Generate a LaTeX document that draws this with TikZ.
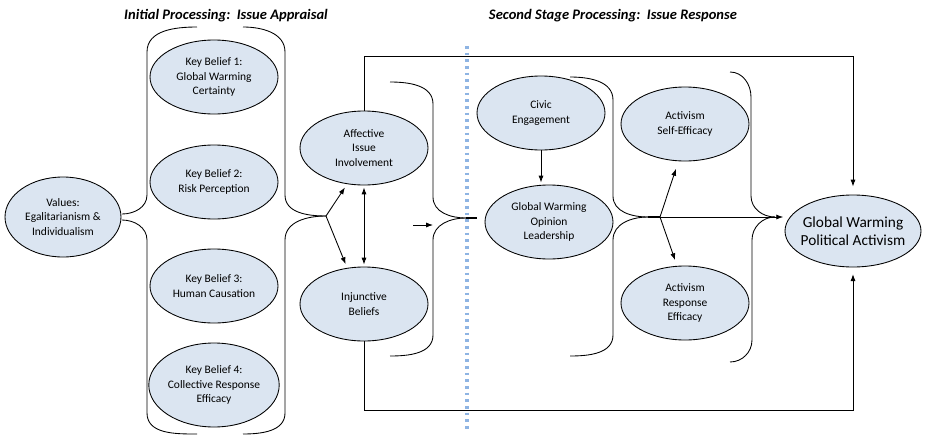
\documentclass[tikz,border=0pt]{standalone}
\usepackage{fontspec}
\setmainfont{Carlito}
\usetikzlibrary{shapes.geometric,arrows.meta,calc}
\definecolor{nodefill}{HTML}{DBE5F1}
\definecolor{dotblue}{HTML}{8EB4E3}
\tikzset{
  ell/.style={ellipse, draw=black, line width=0.65pt, fill=nodefill, inner sep=0pt, align=center,
    font=\fontsize{8.6}{10.9}\selectfont, text=black},
  kb/.style={minimum width=96pt, minimum height=55.5pt},
  ttl/.style={font=\fontsize{10.9}{13}\selectfont\bfseries\itshape, inner sep=0pt},
  ln/.style={line width=0.65pt},
  arr/.style={line width=0.65pt, -{Latex[length=5.2pt,width=3.8pt]}},
  darr/.style={line width=0.65pt, {Latex[length=5.2pt,width=3.8pt]}-{Latex[length=5.2pt,width=3.8pt]}},
  dotline/.style={dotblue, line width=2.5pt, dash pattern=on 2pt off 3pt},
}
\begin{document}
\begin{tikzpicture}[x=0.75pt,y=-0.75pt]
\useasboundingbox (0,0) rectangle (929,436);
% titles
\node[ttl] (t1) at (226,16) {Initial Processing:\ \ Issue Appraisal};
\node[ttl] (t2) at (613,16) {Second Stage Processing:\ \ Issue Response};
% dotted separator
\coordinate (dtop) at (467,46);
\coordinate (dbot) at (467,430);
\draw[dotline] (dtop) -- (dbot);
% nodes
\node[ell, minimum width=87pt, minimum height=60pt] (val) at (63,217) {Values:\\Egalitarianism \&\\Individualism};
\node[ell,kb] (kb1) at (214,77) {Key Belief 1:\\Global Warming\\Certainty};
\node[ell,kb] (kb2) at (214,182) {Key Belief 2:\\Risk Perception};
\node[ell,kb] (kb3) at (214,286) {Key Belief 3:\\Human Causation};
\node[ell,kb, minimum height=63pt] (kb4) at (214,385) {Key Belief 4:\\Collective Response\\Efficacy};
\node[ell,kb] (aff) at (364,148) {Affective\\Issue\\Involvement};
\node[ell,kb] (inj) at (364,304) {Injunctive\\Beliefs};
\node[ell,kb] (civ) at (541,113) {Civic\\Engagement};
\node[ell,kb] (gwol) at (549,222) {Global Warming\\Opinion\\Leadership};
\node[ell,kb] (ase) at (685,124) {Activism\\Self-Efficacy};
\node[ell,kb] (are) at (685,303) {Activism\\Response\\Efficacy};
\node[ell, minimum width=102pt, minimum height=54pt, inner xsep=-4pt, font=\fontsize{11.5}{13.5}\selectfont] (gwpa) at (853,231) {Global Warming\\Political Activism};
% braces
\draw[ln] (197,27) to[out=180,in=90] (147,52) -- (147,195) to[out=-90,in=0] (122,214);
\draw[ln] (122,220) to[out=0,in=90] (147,240) -- (147,413) to[out=-90,in=180] (197,434);
\coordinate (f1) at (326,216);
\draw[ln] (243,27) to[out=0,in=90] (285,52) -- (285,195) to[out=-90,in=180] (f1);
\draw[ln] (f1) to[out=180,in=90] (285,240) -- (285,413) to[out=-90,in=0] (243,434);
\coordinate (m1) at (466,218);
\draw[ln] (390,82) to[out=0,in=90] (433,104) -- (433,197) to[out=-90,in=180] (m1);
\draw[ln] (m1) to[out=180,in=90] (433,240) -- (433,335) to[out=-90,in=0] (390,356);
\coordinate (m1s) at (477,218);
\draw[line width=1.3pt] (m1) -- (m1s);
\coordinate (sa1) at (413,225);
\coordinate (sa2) at (433,225);
\draw[arr] (sa1) -- (sa2);
\coordinate (m2) at (648,217);
\draw[ln] (570,77) to[out=0,in=90] (613,100) -- (613,196) to[out=-90,in=180] (m2);
\draw[ln] (m2) to[out=180,in=90] (613,240) -- (613,335) to[out=-90,in=0] (570,356);
\coordinate (f2) at (660,217);
\draw[line width=1.3pt] (m2) -- (f2);
\coordinate (rr) at (775,217);
\draw[ln] (730,72) to[out=0,in=90] (751,97) -- (751,196) to[out=-90,in=180] (rr);
\draw[ln] (rr) to[out=180,in=90] (752,240) -- (752,340) to[out=-90,in=0] (730,362);
% connectors
\draw[arr, shorten >=3pt] (f1) -- (aff.-115);
\draw[arr, shorten >=3pt] (f1) -- (inj.115);
\draw[darr, shorten >=1.5pt, shorten <=1.5pt] (aff.south) -- (inj.north);
\coordinate (ty) at (0,56);
\coordinate (by) at (0,410);
\draw[arr, shorten >=6pt] (aff.north) -- (aff.north |- ty) -| (gwpa.north);
\draw[arr, shorten >=5pt] (inj.south) -- (inj.south |- by) -| (gwpa.south);
\draw[arr, shorten >=1.5pt] (civ.south) -- (civ.south |- gwol.north);
\draw[arr, shorten >=6pt] (f2) -- (ase.-100);
\draw[arr, shorten >=4.5pt] (f2) -- (are.102);
\draw[arr, shorten >=1pt] (m2) -- (m2 -| gwpa.west);
\end{tikzpicture}
\end{document}
